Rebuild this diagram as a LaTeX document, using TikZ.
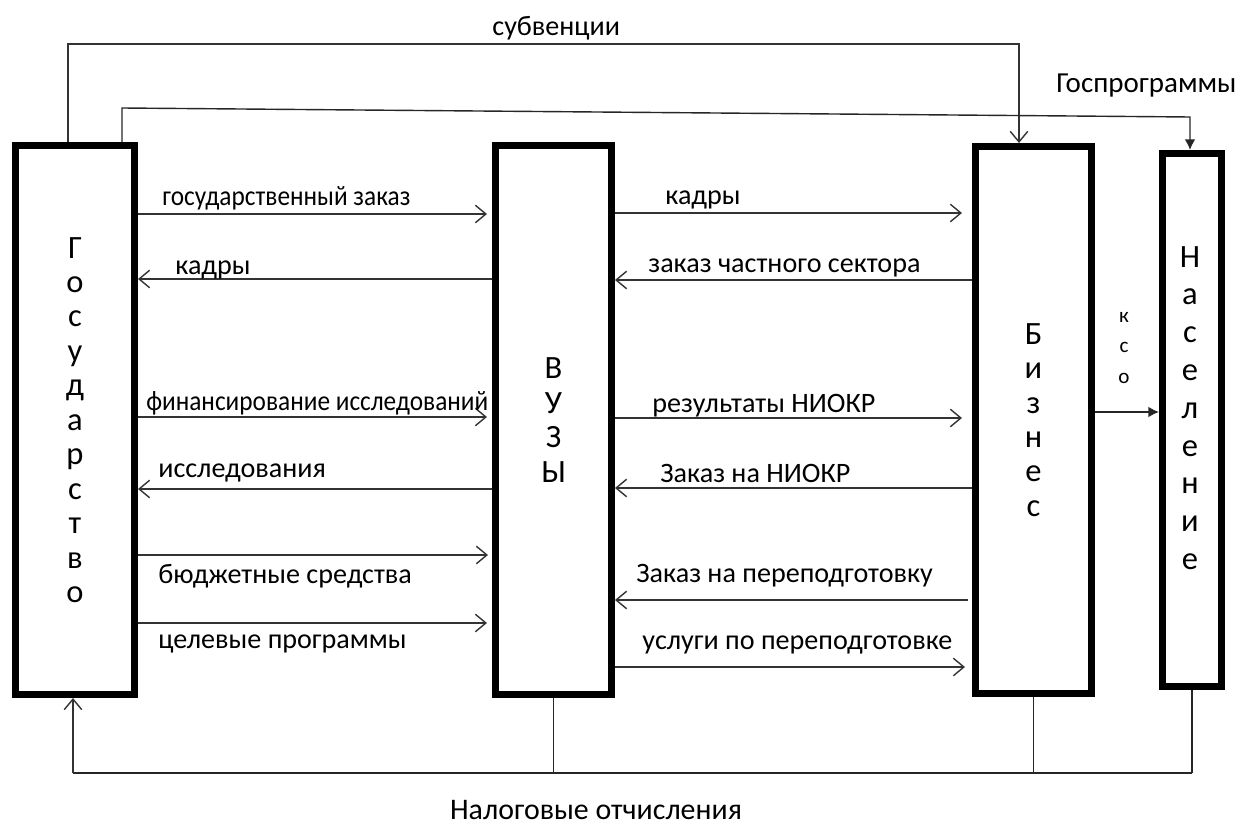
\documentclass[tikz,border=0pt]{standalone}
\usepackage{fontspec}
\setmainfont{Carlito}
\usetikzlibrary{arrows.meta}
\tikzset{
  blok/.style={draw, line width=4pt, inner sep=0pt, align=center, font=\fontsize{18.5}{19.6}\selectfont},
  strel/.style={draw=black!80, line width=0.8pt, -{Straight Barb[length=6pt,width=10pt]}},
  linija/.style={draw=black!85, line width=0.8pt},
  podpis/.style={inner sep=0pt, anchor=west, font=\fontsize{16}{18}\selectfont}
}
\newcommand{\uzko}[1]{\scalebox{0.9}[1]{#1}}

\begin{document}
\begin{tikzpicture}[x=0.2mm, y=-0.2mm]
    \useasboundingbox (0,0) rectangle (1241,824);

    % blocks
    \node[blok, minimum width=2.38cm, minimum height=10.98cm] (gos) at (75,420)
        {Г\\о\\с\\у\\д\\а\\р\\с\\т\\в\\о};
    \node[blok, minimum width=2.32cm, minimum height=10.98cm] (vuz) at (553.5,420)
        {В\\У\\З\\Ы};
    \node[blok, minimum width=2.32cm, minimum height=10.94cm] (biz) at (1033.5,420)
        {Б\\и\\з\\н\\е\\с};
    \node[blok, minimum width=1.18cm, minimum height=10.66cm] (nas) at (1192,420) {};
    \node[align=center, inner sep=0pt, font=\fontsize{18.5}{21.5}\selectfont] (nastxt) at (1190,408)
        {Н\\а\\с\\е\\л\\е\\н\\и\\е};

    % state <-> universities
    \draw[strel, shorten >=1mm] (gos.east |- 0,214) -- (vuz.west |- 0,214);
    \node[podpis] (l1) at (162,198) {\uzko{государственный заказ}};
    \draw[strel] (vuz.west |- 0,279) -- (gos.east |- 0,279);
    \node[podpis] (l2) at (175,270) {кадры};
    \draw[strel, shorten >=1mm] (gos.east |- 0,417) -- (vuz.west |- 0,417);
    \node[podpis] (l3) at (146,403) {\uzko{финансирование исследований}};
    \draw[strel] (vuz.west |- 0,489) -- (gos.east |- 0,489);
    \node[podpis] (l4) at (158,473) {исследования};
    \draw[strel, shorten >=0.8mm] (gos.east |- 0,555) -- (vuz.west |- 0,555);
    \node[podpis] (l5) at (158,576) {бюджетные средства};
    \draw[strel, shorten >=1mm] (gos.east |- 0,623) -- (vuz.west |- 0,623);
    \node[podpis] (l6) at (158,644) {целевые программы};

    % universities <-> business
    \draw[strel, shorten >=2mm] (vuz.east |- 0,213) -- (biz.west |- 0,213);
    \node[podpis] (r1) at (665,200) {кадры};
    \draw[strel] (biz.west |- 0,280) -- (vuz.east |- 0,280);
    \node[podpis] (r2) at (648,268) {заказ частного сектора};
    \draw[strel, shorten >=2mm] (vuz.east |- 0,418) -- (biz.west |- 0,418);
    \node[podpis] (r3) at (652,406) {результаты НИОКР};
    \draw[strel] (biz.west |- 0,488) -- (vuz.east |- 0,488);
    \node[podpis] (r4) at (660,473) {Заказ на НИОКР};
    \draw[strel, shorten <=0.8mm] (biz.west |- 0,600) -- (vuz.east |- 0,600);
    \node[podpis] (r5) at (636,576) {Заказ на переподготовку};
    \draw[strel, shorten >=1.4mm] (vuz.east |- 0,667) -- (biz.west |- 0,667);
    \node[podpis] (r6) at (642,645) {услуги по переподготовке};

    % business -> population
    \draw[linija, -{Latex[length=6pt,width=6pt]}] (biz.east |- 0,412) -- (nas.west |- 0,412);
    \node[align=center, inner sep=0pt, font=\fontsize{12}{17.5}\selectfont] (kso) at (1124,348)
        {к\\с\\о};

    % top lines
    \draw[strel] (gos.north -| 68,0) -- (68,44) -- (1019,44) -- (biz.north -| 1019,0);
    \node[podpis] (sub) at (492,28) {субвенции};
    \draw[linija, -{Latex[length=6pt,width=6pt]}] (gos.north -| 122,0) -- (122,108)
        -- (1190,117) -- (nas.north -| 1190,0);
    \node[podpis, font=\fontsize{16.5}{18}\selectfont] (gp) at (1056,86) {Госпрограммы};

    % taxes
    \coordinate (niz) at (73,773);
    \draw[linija] (niz) -- (nas.south |- niz);
    \draw[strel] (niz) -- (gos.south -| niz);
    \draw[linija] (vuz.south) -- (vuz.south |- niz);
    \draw[linija] (biz.south) -- (biz.south |- niz);
    \draw[linija] (nas.south) -- (nas.south |- niz);
    \node[font=\fontsize{17}{18}\selectfont, inner sep=0pt, anchor=base] (nal) at (596,819) {Налоговые отчисления};
\end{tikzpicture}
\end{document}
